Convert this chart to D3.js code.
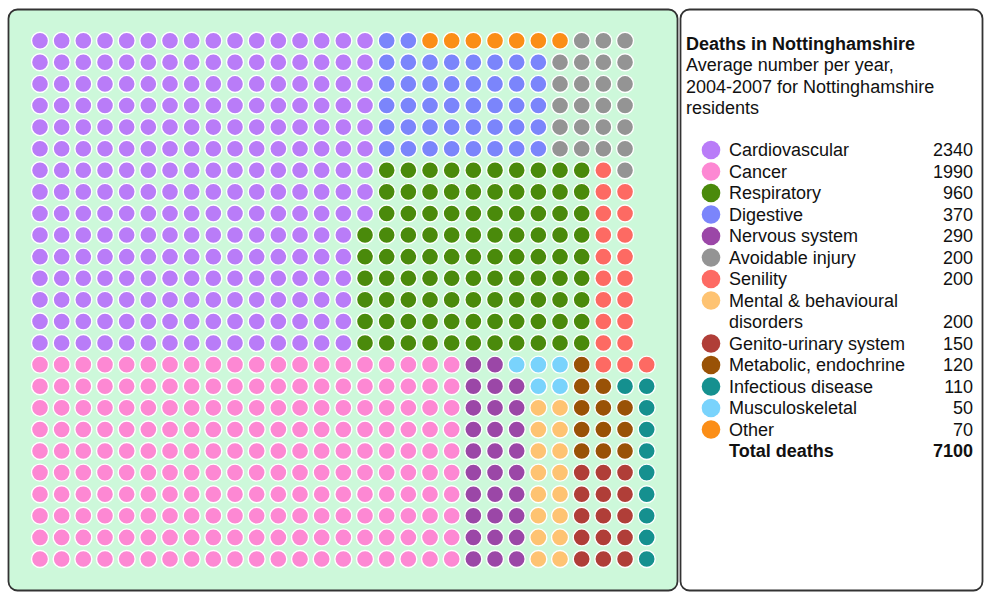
<!DOCTYPE html>
<html>
<head>
<meta charset="utf-8">
<script src="https://cdn.jsdelivr.net/npm/d3@7"></script>
<style>
  html, body { margin: 0; padding: 0; background: #fff; }
  svg { display: block; font-family: "Liberation Sans", Arial, Helvetica, sans-serif; }
</style>
</head>
<body>
<svg id="chart" width="985" height="594"></svg>
<script>
// Causes of death, average per year 2004-2007 (one dot = ten deaths)
const codes = ["A", "B", "C", "D", "E", "F", "G", "H", "I", "J", "K", "L", "M"];
const categories = [
  "Cardiovascular", "Cancer", "Respiratory", "Digestive", "Nervous system",
  "Avoidable injury", "Senility", "Mental & behavioural disorders",
  "Genito-urinary system", "Metabolic, endochrine", "Infectious disease",
  "Musculoskeletal", "Other"
];
const deaths = [2340, 1990, 960, 370, 290, 200, 200, 200, 150, 120, 110, 50, 70];
const colours = [
  "#b97cf8", "#fd88d3", "#4a8a0b", "#7b85fb", "#9b47a7", "#949494", "#fd6a63",
  "#fec372", "#b03e38", "#995206", "#15908f", "#79d3fc", "#fb8e17"
];
const totalLabel = "Total deaths";
const totalDeaths = 7100;
const title = "Deaths in Nottinghamshire";
const subtitle = ["Average number per year,", "2004-2007 for Nottinghamshire", "residents"];

// Dot grid: one character per cell, letter = category code, "." = empty
const grid = [
  "AAAAAAAAAAAAAAAADDMMMMMMMFFF.",
  "AAAAAAAAAAAAAAAADDDDDDDDFFFF.",
  "AAAAAAAAAAAAAAAADDDDDDDDFFFF.",
  "AAAAAAAAAAAAAAAADDDDDDDDFFFF.",
  "AAAAAAAAAAAAAAAADDDDDDDDFFFF.",
  "AAAAAAAAAAAAAAAADDDDDDDDFFFF.",
  "AAAAAAAAAAAAAAAACCCCCCCCCCGF.",
  "AAAAAAAAAAAAAAAACCCCCCCCCCGG.",
  "AAAAAAAAAAAAAAAACCCCCCCCCCGG.",
  "AAAAAAAAAAAAAAACCCCCCCCCCCGG.",
  "AAAAAAAAAAAAAAACCCCCCCCCCCGG.",
  "AAAAAAAAAAAAAAACCCCCCCCCCCGG.",
  "AAAAAAAAAAAAAAACCCCCCCCCCCGG.",
  "AAAAAAAAAAAAAAACCCCCCCCCCCGG.",
  "AAAAAAAAAAAAAAACCCCCCCCCCCGG.",
  "BBBBBBBBBBBBBBBBBBBBEELLLJGGG",
  "BBBBBBBBBBBBBBBBBBBBEEELLJJKK",
  "BBBBBBBBBBBBBBBBBBBBEEEHHJJJK",
  "BBBBBBBBBBBBBBBBBBBBEEEHHJJJK",
  "BBBBBBBBBBBBBBBBBBBBEEEHHJJJK",
  "BBBBBBBBBBBBBBBBBBBBEEEHHIIIK",
  "BBBBBBBBBBBBBBBBBBBBEEEHHIIIK",
  "BBBBBBBBBBBBBBBBBBBBEEEHHIIIK",
  "BBBBBBBBBBBBBBBBBBBBEEEHHIIIK",
  "BBBBBBBBBBBBBBBBBBBBEEEHHIIIK"
];

const svg = d3.select("#chart");
const colour = d3.scaleOrdinal().domain(codes).range(colours);

// Panels
svg.append("rect")
  .attr("x", 8.5).attr("y", 9.5).attr("width", 669).attr("height", 581)
  .attr("rx", 9).attr("ry", 9)
  .attr("fill", "#cdf8da").attr("stroke", "#333").attr("stroke-width", 1.8);
svg.append("rect")
  .attr("x", 680.5).attr("y", 9.5).attr("width", 302).attr("height", 581)
  .attr("rx", 9).attr("ry", 9)
  .attr("fill", "#fff").attr("stroke", "#333").attr("stroke-width", 1.8);

// Dot grid
const nCols = grid[0].length, nRows = grid.length;
const x = d3.scalePoint().domain(d3.range(nCols)).range([40, 646.7]);
const y = d3.scalePoint().domain(d3.range(nRows)).range([40.7, 559]);

const cells = [];
grid.forEach((row, r) => {
  row.split("").forEach((code, c) => {
    if (code !== ".") cells.push({ r, c, code });
  });
});

svg.append("g").selectAll("circle")
  .data(cells)
  .join("circle")
  .attr("cx", d => x(d.c))
  .attr("cy", d => y(d.r))
  .attr("r", 8.5)
  .attr("fill", d => colour(d.code))
  .attr("stroke", "#fff")
  .attr("stroke-width", 1.4);

// Legend
const lg = svg.append("g");
lg.append("text")
  .attr("x", 686).attr("y", 49.5)
  .attr("font-size", 18).attr("font-weight", "bold").attr("fill", "#111")
  .text(title);
subtitle.forEach((line, i) => {
  lg.append("text")
    .attr("x", 686).attr("y", 71 + i * 21.6)
    .attr("font-size", 18).attr("fill", "#111")
    .text(line);
});

const rowH = 21.5;
const legendRows = [];
let rowIndex = 0;
categories.forEach((name, i) => {
  const lines = name === "Mental & behavioural disorders"
    ? ["Mental & behavioural", "disorders"] : [name];
  legendRows.push({ i, lines, row: rowIndex });
  rowIndex += lines.length;
});
const ly = d3.scaleLinear().domain([0, 1]).range([150, 150 + rowH]);

const item = lg.selectAll("g.item")
  .data(legendRows)
  .join("g").attr("class", "item");
item.append("circle")
  .attr("cx", 711).attr("cy", d => ly(d.row))
  .attr("r", 9.3)
  .attr("fill", d => colours[d.i]);
item.each(function (d) {
  const g = d3.select(this);
  d.lines.forEach((line, k) => {
    g.append("text")
      .attr("x", 729).attr("y", ly(d.row + k) + 6.3)
      .attr("font-size", 18).attr("fill", "#111")
      .text(line);
  });
  g.append("text")
    .attr("x", 973).attr("y", ly(d.row + d.lines.length - 1) + 6.3)
    .attr("font-size", 18).attr("fill", "#111").attr("text-anchor", "end")
    .text(deaths[d.i]);
});

lg.append("text")
  .attr("x", 729).attr("y", ly(rowIndex) + 6.3)
  .attr("font-size", 18).attr("font-weight", "bold").attr("fill", "#111")
  .text(totalLabel);
lg.append("text")
  .attr("x", 973).attr("y", ly(rowIndex) + 6.3)
  .attr("font-size", 18).attr("font-weight", "bold").attr("fill", "#111")
  .attr("text-anchor", "end")
  .text(totalDeaths);
</script>
</body>
</html>
